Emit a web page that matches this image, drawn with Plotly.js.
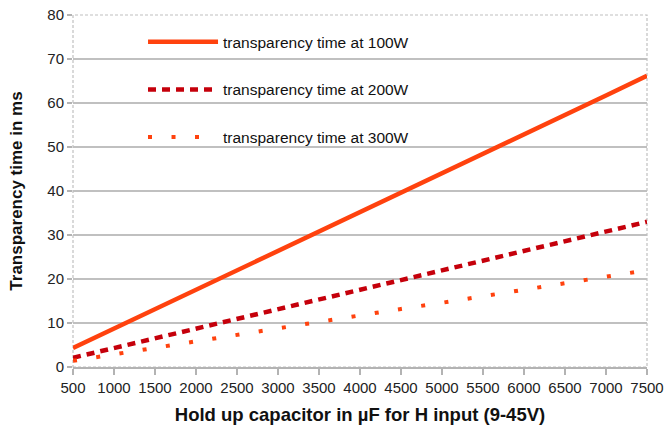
<!DOCTYPE html>
<html>
<head>
<meta charset="utf-8">
<script src="https://cdn.plot.ly/plotly-3.0.1.min.js"></script>
<style>html,body{margin:0;padding:0;background:#fff;}#chart{width:664px;height:446px;}</style>
</head>
<body>
<div id="chart"></div>
<script>
const capacitance = [500, 1000, 1500, 2000, 2500, 3000, 3500, 4000, 4500, 5000, 5500, 6000, 6500, 7000, 7500];
const time100W = [4.3, 8.7, 13.1, 17.5, 21.9, 26.4, 30.8, 35.2, 39.6, 44.0, 48.5, 52.9, 57.3, 61.7, 66.2];
const time200W = [2.1, 4.3, 6.5, 8.7, 10.9, 13.1, 15.3, 17.6, 19.8, 22.0, 24.2, 26.4, 28.6, 30.8, 33.0];
const time300W = [1.4, 2.9, 4.3, 5.8, 7.3, 8.8, 10.2, 11.7, 13.2, 14.6, 16.1, 17.6, 19.1, 20.5, 22.0];
const seriesNames = ["transparency time at 100W", "transparency time at 200W", "transparency time at 300W"];
const xTicks = [500, 1000, 1500, 2000, 2500, 3000, 3500, 4000, 4500, 5000, 5500, 6000, 6500, 7000, 7500];
const yTicks = [0, 10, 20, 30, 40, 50, 60, 70, 80];
const yGrid = [10, 20, 30, 40, 50, 60, 70];

const traces = [
  {x: capacitance, y: time100W, name: seriesNames[0], mode: "lines", legendgroup: "a",
   line: {color: "#ff420e", width: 4.5}},
  {x: capacitance, y: time200W, name: seriesNames[1], mode: "lines", legendgroup: "b",
   line: {color: "#c5000b", width: 4.5, dash: "8px,6px"}},
  {x: capacitance, y: time300W, name: seriesNames[2], mode: "lines", legendgroup: "c",
   line: {color: "#ff420e", width: 4, dash: "4px,19.5px"}},
  {x: [capacitance[0]], y: [yGrid[0]], yaxis: "y2", mode: "markers", showlegend: false,
   hoverinfo: "skip", marker: {opacity: 0}}
];

const layout = {
  width: 664, height: 446,
  margin: {l: 73, r: 17, t: 15, b: 79},
  paper_bgcolor: "#fff", plot_bgcolor: "#fff",
  font: {family: "Liberation Sans, Arial, sans-serif", size: 15, color: "#222"},
  showlegend: true,
  legend: {
    x: 0.122, xanchor: "left", y: 0.971, yanchor: "top",
    bgcolor: "rgba(0,0,0,0)", borderwidth: 0,
    itemwidth: 70, tracegroupgap: 24.5,
    font: {family: "Liberation Sans, Arial, sans-serif", size: 15.5, color: "#111"}
  },
  xaxis: {
    range: [500, 7500], tickvals: xTicks, ticktext: xTicks.map(String),
    showgrid: false, zeroline: false,
    showline: true, linecolor: "#b3b3b3", linewidth: 1.5,
    ticks: "outside", ticklen: 6, tickcolor: "#b3b3b3", tickwidth: 1.5,
    tickfont: {size: 15, color: "#222"},
    title: {text: "Hold up capacitor in µF for H input (9-45V)", standoff: 13,
            font: {family: "Liberation Sans, Arial, sans-serif", size: 18.5, color: "#111", weight: "bold"}},
    fixedrange: true
  },
  yaxis: {
    range: [0, 80], tickvals: yTicks, ticktext: yTicks.map(String),
    showgrid: false, zeroline: false, showline: false,
    ticks: "outside", ticklen: 5, tickcolor: "#b3b3b3", tickwidth: 1.5,
    tickfont: {size: 15, color: "#222"},
    title: {text: "Transparency time in ms", standoff: 20,
            font: {family: "Liberation Sans, Arial, sans-serif", size: 17, color: "#111", weight: "bold"}},
    fixedrange: true
  },
  yaxis2: {
    overlaying: "y", range: [0, 80], tickvals: yGrid, showticklabels: false,
    showgrid: true, gridcolor: "#c0c0c0", gridwidth: 1.5, zeroline: false, showline: false,
    ticks: "", fixedrange: true
  },
  shapes: [
    {type: "rect", xref: "paper", yref: "paper", x0: 0, x1: 1, y0: 0, y1: 1,
     line: {color: "#c0c0c0", width: 1.2, dash: "3px,2px"}, layer: "below"}
  ]
};

Plotly.newPlot("chart", traces, layout, {displayModeBar: false, staticPlot: true});
</script>
</body>
</html>
